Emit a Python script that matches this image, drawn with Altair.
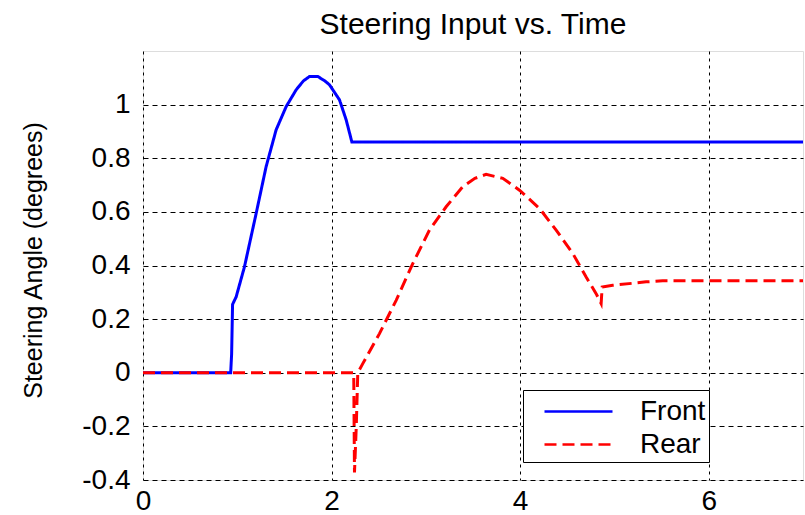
import altair as alt
import pandas as pd

front_t = [0.0, 0.93, 0.94, 0.95, 0.988, 1.076, 1.2, 1.306, 1.412, 1.519, 1.624, 1.70, 1.766, 1.854, 1.93, 1.978, 2.084, 2.155, 2.215, 7.0]
front_v = [0.0, 0.0, 0.07, 0.255, 0.283, 0.395, 0.594, 0.769, 0.906, 0.993, 1.055, 1.088, 1.105, 1.105, 1.088, 1.074, 1.018, 0.943, 0.861, 0.861]

rear_t = [0.0, 2.235, 2.243, 2.262, 2.278, 2.331, 2.508, 2.685, 2.861, 3.038, 3.215, 3.391, 3.52, 3.639, 3.816, 3.993, 4.205, 4.382, 4.558, 4.7, 4.806, 4.859, 4.87, 4.982, 5.336, 5.512, 6.0, 7.0]
rear_v = [0.0, 0.0, -0.372, -0.2, 0.0, 0.034, 0.146, 0.27, 0.407, 0.532, 0.619, 0.694, 0.725, 0.740, 0.725, 0.681, 0.613, 0.532, 0.445, 0.357, 0.295, 0.258, 0.32, 0.326, 0.339, 0.343, 0.343, 0.343]

series_names = ["Front", "Rear"]
series_colors = ["#0000ff", "#ff0000"]
x_ticks = [0, 2, 4, 6]
y_ticks = [-0.4, -0.2, 0, 0.2, 0.4, 0.6, 0.8, 1]

rows = []
for t, v in zip(front_t, front_v):
    rows.append({"t": t, "v": v, "series": "Front"})
for t, v in zip(rear_t, rear_v):
    rows.append({"t": t, "v": v, "series": "Rear"})
df = pd.DataFrame(rows)

FONT = "Liberation Sans"

chart = alt.Chart(df).mark_line(strokeWidth=3, strokeCap="butt", strokeJoin="miter").encode(
    x=alt.X("t:Q", scale=alt.Scale(domain=[0, 7], nice=False, zero=False),
            axis=alt.Axis(values=x_ticks, title=None, grid=True, gridColor="black",
                          gridDash=[3, 4], gridWidth=1, gridOpacity=1, domain=False,
                          ticks=False, labelPadding=7, labelFontSize=28, labelFont=FONT,
                          labelColor="black", labelFlush=False)),
    y=alt.Y("v:Q", scale=alt.Scale(domain=[-0.4, 1.2], nice=False, zero=False),
            axis=alt.Axis(values=y_ticks, title="Steering Angle (degrees)", grid=True,
                          gridColor="black", gridDash=[5, 4], gridWidth=1, gridOpacity=1,
                          domain=False, ticks=False, labelPadding=13, labelFontSize=28,
                          labelFont=FONT, labelColor="black", format="~g",
                          labelExpr="replace(datum.label, '\u2212', '-')",
                          labelFlush=False,
                          titleFont=FONT, titleFontSize=25, titleFontWeight="normal",
                          titleColor="black", titleAngle=270, titleX=-97, titleY=209,
                          titleAlign="center", titleBaseline="bottom")),
    color=alt.Color("series:N", scale=alt.Scale(domain=series_names, range=series_colors),
                    legend=alt.Legend(title=None, orient="none", legendX=380, legendY=339,
                                      symbolType="M-2,0H2", symbolSize=1156,
                                      symbolStrokeWidth=2.5, labelFontSize=28,
                                      labelFont=FONT, labelColor="black", labelOffset=43,
                                      padding=3, symbolOffset=34, rowPadding=0,
                                      strokeColor="black", fillColor="white",
                                      cornerRadius=0,
                                      labelExpr="datum.label + '\u2007\u2007\u2007'")),
    strokeDash=alt.StrokeDash("series:N", scale=alt.Scale(domain=series_names, range=[[1, 0], [12, 6]]),
                              legend=None),
    order="t:Q",
).properties(
    width=660,
    height=429,
    title=alt.TitleParams("Steering Input vs. Time", font=FONT, fontSize=30,
                          fontWeight="normal", color="black", anchor="middle",
                          frame="group", baseline="bottom", offset=14, dy=33),
    autosize=alt.AutoSizeParams(type="none"),
    padding={"left": 143, "top": 51, "right": 2, "bottom": 35},
).configure_view(
    stroke="black", strokeWidth=1.5
).configure(background="white")

chart.save("out.html", embed_options={"renderer": "svg", "actions": False})
